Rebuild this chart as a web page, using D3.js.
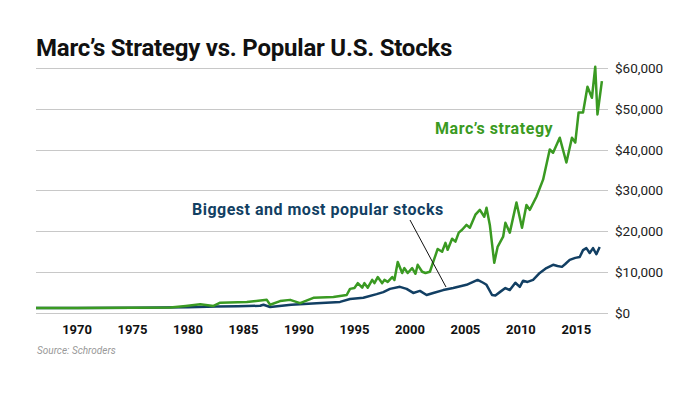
<!DOCTYPE html>
<html>
<head>
<meta charset="utf-8">
<script src="https://cdn.jsdelivr.net/npm/d3@7"></script>
<style>
  body { margin: 0; background: #fff; }
  svg { display: block; font-family: Roboto, "Noto Sans", sans-serif; }
</style>
</head>
<body>
<div id="chart"></div>
<script>
// Marc's strategy, growth of ~$1,000
const strategyYears = [1966.3, 1970, 1975, 1978.4, 1979.8, 1981.1, 1982.3, 1982.9, 1985.3, 1987.1, 1987.4, 1988.3, 1989.2, 1990.1, 1991.3, 1993.1, 1994.3,
  1994.6, 1995.0, 1995.3, 1995.7, 1995.9, 1996.2, 1996.6, 1996.8, 1997.1, 1997.5, 1997.7, 1998.0, 1998.4, 1998.6, 1998.9,
  1999.3, 1999.5, 1999.8, 2000.2, 2000.5, 2000.7, 2001.1, 2001.4, 2001.8, 2002.1, 2002.5, 2002.9, 2003.2, 2003.4, 2003.8,
  2004.1, 2004.4, 2004.7, 2005.1, 2005.4, 2005.9, 2006.3, 2006.7, 2006.9, 2007.2, 2007.6, 2007.9, 2008.4, 2008.6, 2009.0,
  2009.6, 2010.1, 2010.5, 2010.8, 2011.4, 2012.0, 2012.6, 2012.9, 2013.5, 2014.1, 2014.6, 2014.9, 2015.2, 2015.6, 2016.0,
  2016.4, 2016.7, 2016.9, 2017.3];
const strategyValues = [1100, 1100, 1150, 1200, 1600, 2000, 1600, 2400, 2600, 3100, 1900, 2800, 3100, 2300, 3600, 3800, 4300,
  5800, 6000, 7200, 6100, 7200, 6100, 8000, 7200, 8700, 7200, 8000, 7500, 8700, 8000, 12400,
  9700, 10900, 9700, 10900, 9500, 11700, 10000, 9700, 10000, 12400, 15600, 14900, 17100, 15400, 18100,
  17400, 19600, 20300, 21500, 20800, 24000, 25200, 23500, 25700, 21500, 12200, 16100, 18600, 22000, 19600,
  27000, 20800, 26400, 25200, 28400, 32600, 40000, 39200, 42900, 36800, 42900, 41700, 49100, 49100, 55400,
  52700, 60300, 48600, 56800];

// Biggest and most popular stocks
const popularYears = [1966.3, 1970, 1975, 1977.5, 1980, 1982.6, 1984.5, 1986.5, 1986.8, 1987.4, 1989.3, 1991.6, 1993.7,
  1994.6, 1995.8, 1997.0, 1997.6, 1998.2, 1999.1, 1999.7, 2000.3, 2000.9, 2001.5, 2002.1, 2003.0, 2003.9, 2005.1,
  2006.1, 2006.6, 2006.9, 2007.4, 2007.7, 2008.1, 2008.6, 2009.0, 2009.5, 2009.9, 2010.2, 2010.6, 2011.1, 2011.7,
  2012.3, 2012.9, 2013.3, 2013.7, 2014.0, 2014.4, 2014.9, 2015.3, 2015.6, 2015.9, 2016.2, 2016.5, 2016.8, 2017.1];
const popularValues = [1100, 1100, 1150, 1200, 1300, 1500, 1550, 1650, 1900, 1350, 1900, 2300, 2600,
  3300, 3600, 4500, 5000, 5800, 6300, 5800, 4800, 5300, 4300, 4800, 5500, 6000, 6800,
  8000, 7300, 6800, 4300, 4200, 5000, 6000, 5500, 7300, 6300, 7800, 7500, 8000, 9700,
  10900, 11700, 11400, 11200, 11900, 12900, 13400, 13600, 15300, 15800, 14600, 15800, 14300, 16100];

const yTicks = [0, 10000, 20000, 30000, 40000, 50000, 60000];
const xTicks = [1970, 1975, 1980, 1985, 1990, 1995, 2000, 2005, 2010, 2015];

const w = 700, h = 393;
const green = "#3a9a22", navy = "#123f63";

const svg = d3.select("#chart").append("svg")
  .attr("width", w).attr("height", h);

const x = d3.scaleLinear().domain([1966.3, 2017.85]).range([36, 608]);
const y = d3.scaleLinear().domain([0, 60000]).range([312.5, 68]);

// gridlines + right labels
svg.append("g").selectAll("line")
  .data(yTicks).enter().append("line")
  .attr("x1", 36).attr("x2", 608)
  .attr("y1", d => Math.round(y(d)) + 0.5).attr("y2", d => Math.round(y(d)) + 0.5)
  .attr("stroke", "#c8c8c8").attr("stroke-width", 1.2);

svg.append("g").selectAll("text")
  .data(yTicks).enter().append("text")
  .attr("x", 615).attr("y", d => y(d) + 5)
  .attr("font-size", 13.5).attr("fill", "#222")
  .text(d => "$" + d3.format(",")(d));

svg.append("g").selectAll("text")
  .data(xTicks).enter().append("text")
  .attr("x", d => x(d)).attr("y", 334)
  .attr("text-anchor", "middle")
  .attr("font-size", 13).attr("font-weight", 700).attr("fill", "#111")
  .text(d => d);

const line = d3.line().x(d => x(d[0])).y(d => y(d[1]));

svg.append("path")
  .datum(d3.zip(popularYears, popularValues))
  .attr("d", line).attr("fill", "none")
  .attr("stroke", navy).attr("stroke-width", 2.5).attr("stroke-linejoin", "round");

svg.append("path")
  .datum(d3.zip(strategyYears, strategyValues))
  .attr("d", line).attr("fill", "none")
  .attr("stroke", green).attr("stroke-width", 2.5).attr("stroke-linejoin", "round");

// labels
svg.append("text").attr("x", 435).attr("y", 134)
  .attr("font-size", 16).attr("font-weight", 700).attr("fill", green)
  .attr("letter-spacing", 0.55)
  .text("Marc\u2019s strategy");

svg.append("text").attr("x", 192).attr("y", 215)
  .attr("font-size", 16).attr("font-weight", 700).attr("fill", navy)
  .attr("letter-spacing", 0.5)
  .text("Biggest and most popular stocks");

svg.append("line")
  .attr("x1", 410).attr("y1", 220).attr("x2", 446).attr("y2", 287)
  .attr("stroke", "#111").attr("stroke-width", 1);

// title + source
svg.append("text").attr("x", 36).attr("y", 56)
  .attr("font-size", 24).attr("font-weight", 700).attr("fill", "#111")
  .attr("letter-spacing", -0.22)
  .text("Marc\u2019s Strategy vs. Popular U.S. Stocks");

svg.append("text").attr("x", 37).attr("y", 354)
  .attr("font-size", 10).attr("font-style", "italic").attr("fill", "#999")
  .text("Source: Schroders");
</script>
</body>
</html>
